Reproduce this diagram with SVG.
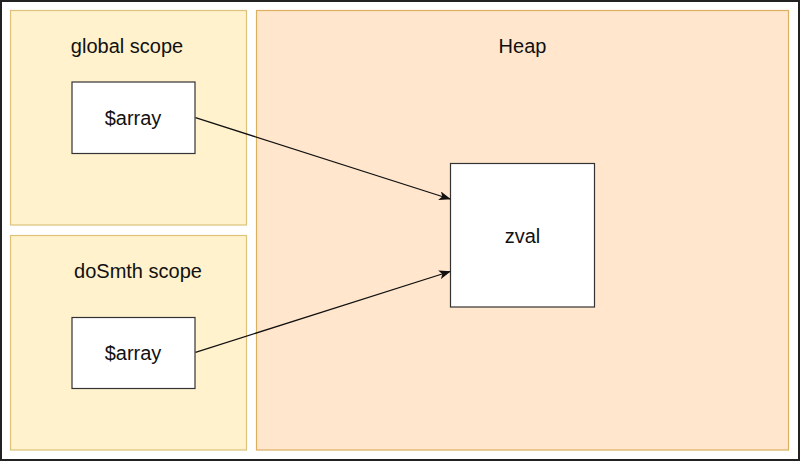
<svg xmlns="http://www.w3.org/2000/svg" width="800" height="461" viewBox="0 0 800 461">
<style>
.scope{fill:#fff2cc;stroke:#dcc27a;stroke-width:1.2}
.heap{fill:#ffe6cc;stroke:#dbb060;stroke-width:1.2}
.box{fill:#ffffff;stroke:#333333;stroke-width:1.2}
.t{font-family:"Liberation Sans",Arial,sans-serif;font-size:20px;fill:#111111;text-anchor:middle}
.edge{stroke:#111111;stroke-width:1.3;fill:none}
</style>
<defs>
<marker id="arr" markerWidth="12" markerHeight="9" refX="11" refY="4.5" orient="auto" markerUnits="userSpaceOnUse">
<path d="M0,0 L12,4.5 L0,9 L3,4.5 Z" fill="#111111"/>
</marker>
</defs>
<rect x="0" y="0" width="800" height="461" fill="#ffffff"/>
<rect x="1" y="1" width="798" height="459" fill="none" stroke="#222222" stroke-width="2"/>
<g id="global-scope">
<rect class="scope" x="10.5" y="10.5" width="236" height="214.5"/>
<text class="t" x="127" y="53">global scope</text>
</g>
<g id="dosmth-scope">
<rect class="scope" x="10.5" y="235.5" width="236" height="214.5"/>
<text class="t" x="138" y="278">doSmth scope</text>
</g>
<g id="heap">
<rect class="heap" x="256.5" y="10.5" width="532" height="439.5"/>
<text class="t" x="522.5" y="53">Heap</text>
</g>
<g id="array-global">
<rect class="box" x="72" y="82" width="123" height="71.5"/>
<text class="t" x="133" y="125">$array</text>
</g>
<g id="array-dosmth">
<rect class="box" x="72" y="317.5" width="123" height="71"/>
<text class="t" x="133" y="360">$array</text>
</g>
<g id="zval">
<rect class="box" x="450.5" y="163.5" width="144" height="143.5"/>
<text class="t" x="522.5" y="243">zval</text>
</g>
<g id="connectors">
<path class="edge" d="M195.5,117.7 L450,199" marker-end="url(#arr)"/>
<path class="edge" d="M195.5,352.3 L450,271.5" marker-end="url(#arr)"/>
</g>
</svg>
